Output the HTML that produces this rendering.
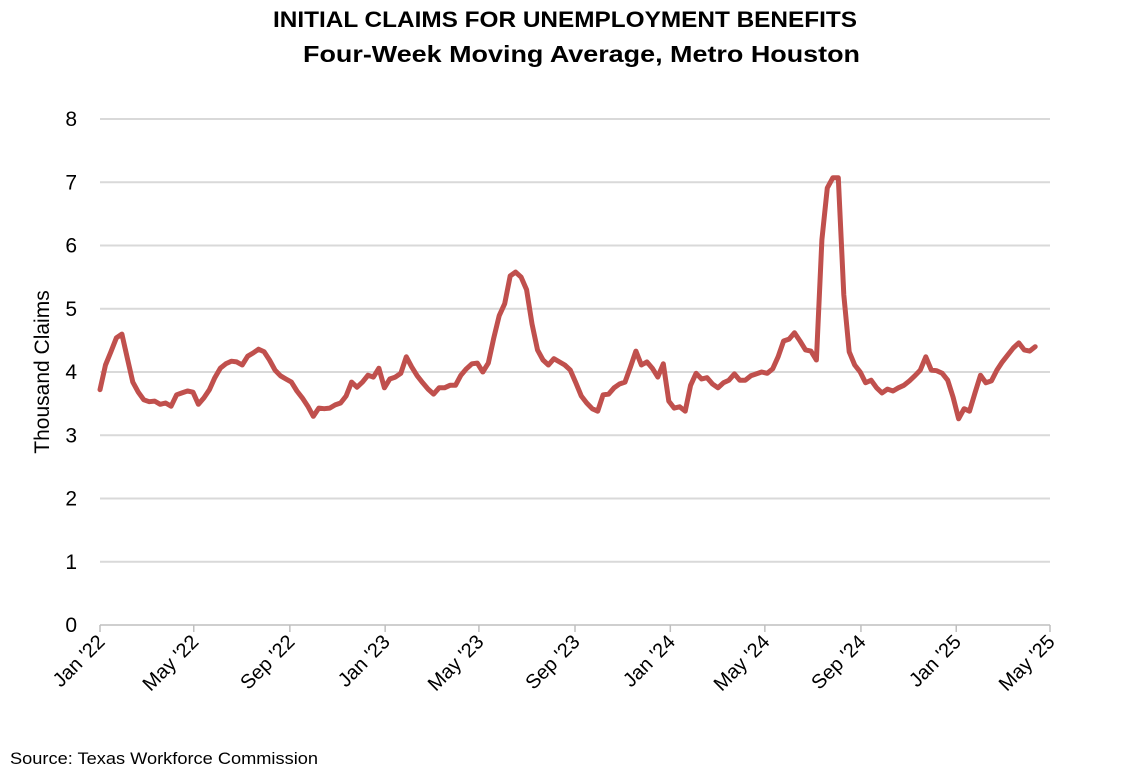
<!DOCTYPE html>
<html><head><meta charset="utf-8"><style>
body{margin:0;background:#fff;font-family:"Liberation Sans",sans-serif;}
svg text{font-family:"Liberation Sans",sans-serif;}
</style></head><body>
<svg id="chart" width="1126" height="777" xmlns="http://www.w3.org/2000/svg">
<text x="273" y="27" font-size="22" font-weight="bold" textLength="584" lengthAdjust="spacingAndGlyphs">INITIAL CLAIMS FOR UNEMPLOYMENT BENEFITS</text>
<text x="303" y="62" font-size="23" font-weight="bold" textLength="557" lengthAdjust="spacingAndGlyphs">Four-Week Moving Average, Metro Houston</text>
<text transform="translate(49,372) rotate(-90)" text-anchor="middle" font-size="21">Thousand Claims</text>
<text x="10" y="764" font-size="17" textLength="308" lengthAdjust="spacingAndGlyphs">Source: Texas Workforce Commission</text>
<g id="grid"></g><g id="axis"></g><g id="series"></g>
</svg>
<script>
const yTicks=[0,1,2,3,4,5,6,7,8];
const xTickLabels=["Jan '22","May '22","Sep '22","Jan '23","May '23","Sep '23","Jan '24","May '24","Sep '24","Jan '25","May '25"];
const startDate="2022-01-01";
const claims=[3.72,4.11,4.32,4.54,4.60,4.22,3.84,3.68,3.56,3.53,3.54,3.49,3.51,3.46,3.64,3.67,3.70,3.68,3.49,3.59,3.72,3.91,4.06,4.13,4.17,4.16,4.11,4.25,4.30,4.36,4.32,4.19,4.03,3.94,3.89,3.84,3.70,3.59,3.46,3.30,3.43,3.42,3.43,3.48,3.51,3.62,3.84,3.76,3.84,3.95,3.92,4.06,3.75,3.89,3.92,3.98,4.24,4.08,3.94,3.83,3.73,3.65,3.75,3.75,3.79,3.79,3.95,4.05,4.13,4.14,4.00,4.14,4.54,4.89,5.08,5.52,5.58,5.50,5.30,4.76,4.35,4.19,4.11,4.21,4.16,4.11,4.03,3.83,3.62,3.51,3.42,3.38,3.64,3.65,3.75,3.81,3.84,4.08,4.33,4.11,4.16,4.06,3.92,4.13,3.54,3.43,3.45,3.38,3.79,3.98,3.89,3.91,3.81,3.75,3.83,3.87,3.97,3.87,3.87,3.94,3.97,4.00,3.98,4.05,4.24,4.49,4.52,4.62,4.49,4.35,4.33,4.19,6.09,6.91,7.07,7.07,5.22,4.32,4.11,4.00,3.83,3.87,3.75,3.67,3.73,3.70,3.75,3.79,3.86,3.94,4.03,4.24,4.03,4.02,3.98,3.87,3.60,3.26,3.42,3.38,3.67,3.95,3.83,3.86,4.03,4.16,4.27,4.38,4.46,4.35,4.33,4.40];
const NS="http://www.w3.org/2000/svg";
const x0=100,x1=1050,y0=625,y1=119;
const t0=Date.parse("2022-01-01"),t1=Date.parse("2025-05-01");
const xScale=t=>x0+(t-t0)/(t1-t0)*(x1-x0);
const yScale=v=>y0-(v-0)/(8-0)*(y0-y1);
function mk(tag,attrs,parent){const e=document.createElementNS(NS,tag);for(const k in attrs)e.setAttribute(k,attrs[k]);parent.appendChild(e);return e;}
const grid=document.getElementById('grid'),axis=document.getElementById('axis'),series=document.getElementById('series');
yTicks.forEach(v=>{
  const y=yScale(v);
  if(v>0){const g=mk('line',{x1:x0,x2:x1,y1:y,y2:y,stroke:'#d9d9d9','stroke-width':2},grid);
  
  }
  const t=mk('text',{x:77,y:y+7,'text-anchor':'end','font-size':21},axis);t.textContent=v;
  
  
});
const ax=mk('line',{x1:x0,x2:x1,y1:y0,y2:y0,stroke:'#bfbfbf','stroke-width':1.5},axis);


xTickLabels.forEach((lab,i)=>{
  const d=new Date(Date.UTC(2022,i*4,1));
  const x=xScale(d.getTime());
  const tk=mk('line',{x1:x,x2:x,y1:y0,y2:y0+7,stroke:'#bfbfbf','stroke-width':1.5},axis);
  
  
  const t=mk('text',{transform:`translate(${x+6},${y0+18}) rotate(-45)`,'text-anchor':'end','font-size':20},axis);
  t.textContent=lab;
  
  
});
const st=Date.parse(startDate);
const pts=claims.map((v,i)=>xScale(st+i*7*86400000).toFixed(1)+','+yScale(v).toFixed(1));
const p=mk('polyline',{points:pts.join(' '),fill:'none',stroke:'#c0504d','stroke-width':5,'stroke-linejoin':'round','stroke-linecap':'round'},series);


</script>
</body></html>
